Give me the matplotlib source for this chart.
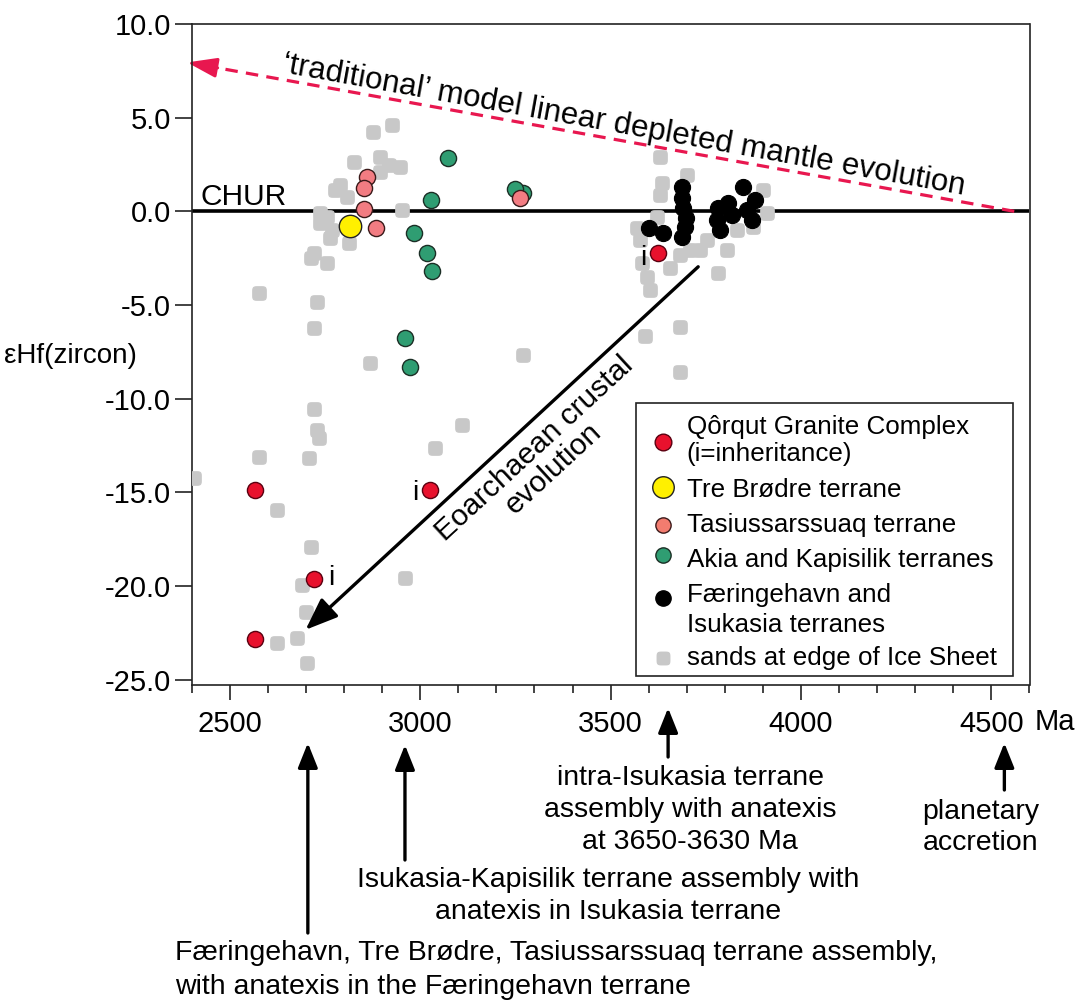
import matplotlib
matplotlib.use('Agg')
import numpy as np
import matplotlib.pyplot as plt
from matplotlib.ticker import MultipleLocator
from matplotlib.transforms import blended_transform_factory
from matplotlib.patches import Rectangle
from matplotlib.path import Path

plt.rcParams['font.family'] = ['Liberation Sans', 'DejaVu Sans']
plt.rcParams['axes.unicode_minus'] = False

# ---------------- data ----------------
sands_age = [2876, 2926, 2825, 2895, 2917, 2948, 2895, 2790, 2777, 2808,
             2738, 2756, 2738, 2769, 2764, 2812, 2720, 2712, 2756, 2952,
             2576, 2729, 2720, 2869, 3271, 2720, 2729, 2733, 2707, 2576,
             2405, 2624, 2712, 2690, 2699, 2677, 2624, 2703, 3110, 3040,
             2961, 3630, 3634, 3630, 3700, 3621, 3569, 3577, 3582, 3595,
             3604, 3783, 3805, 3735, 3752, 3709, 3901, 3910, 3831, 3682,
             3590, 3682, 3682, 3875, 3656]
sands_ehf = [4.25, 4.61, 2.65, 2.91, 2.47, 2.38, 2.11, 1.40, 1.14, 0.78,
             -0.11, -0.29, -0.64, -1.00, -1.44, -1.71, -2.24, -2.51, -2.77, 0.07,
             -4.38, -4.82, -6.24, -8.11, -7.67, -10.55, -11.67, -12.11, -13.18, -13.10,
             -14.25, -15.94, -17.90, -19.94, -21.37, -22.79, -23.05, -24.12, -11.40, -12.65,
             -19.58, 2.91, 1.49, 0.87, 1.94, -0.29, -0.91, -1.53, -2.77, -3.49,
             -4.20, -3.31, -2.07, -2.07, -1.53, -2.07, 1.14, -0.11, -1.00, -2.33,
             -6.68, -6.15, -8.56, -0.82, -3.02]

faer_age = [3687, 3687, 3691, 3698, 3695, 3687, 3602, 3638, 3783,
            3809, 3818, 3779, 3787, 3848, 3879, 3857, 3870]
faer_ehf = [1.31, 0.69, 0.16, -0.37, -0.85, -1.36, -0.91, -1.17, 0.16,
            0.43, -0.20, -0.46, -1.00, 1.31, 0.60, 0.07, -0.46]

akia_age = [3074, 3028, 2985, 3019, 3031, 2959, 2974, 3270, 3248]
akia_ehf = [2.83, 0.60, -1.17, -2.24, -3.19, -6.78, -8.29, 1.00, 1.17]

tasi_age = [2860, 2852, 2852, 2885, 3263]
tasi_ehf = [1.81, 1.23, 0.12, -0.91, 0.69]

tre_age = [2815]
tre_ehf = [-0.78]

qorqut_age = [2567, 3026, 2720, 2567, 3625]
qorqut_ehf = [-14.9, -14.87, -19.64, -22.84, -2.21]
qorqut_inherit = [False, True, True, False, True]

chur_age = [2400, 4600]
chur_ehf = [0, 0]

dm_age = [4560, 2388]          # 'traditional' depleted mantle line
dm_ehf = [0.0, 7.95]

crust_age = [3730, 2699]       # Eoarchaean crustal evolution arrow
crust_ehf = [-2.96, -22.34]

event_age = [2705, 2960, 3651, 4534]   # arrows below the axis

yticks = [10, 5, 0, -5, -10, -15, -20, -25]
xticks = [2500, 3000, 3500, 4000, 4500]
xtick_labels = ['2500', '3000', '3500', '4000', '4500']

# rounded-square marker for the sand grains
_t = np.linspace(0, 2 * np.pi, 64, endpoint=False)
_n = 5.0
_rx = np.sign(np.cos(_t)) * np.abs(np.cos(_t)) ** (2 / _n)
_ry = np.sign(np.sin(_t)) * np.abs(np.sin(_t)) ** (2 / _n)
_verts = np.column_stack([_rx, _ry])
_verts = np.vstack([_verts, _verts[:1]])
rsquare = Path(_verts, closed=True)

# ---------------- figure ----------------
W, H = 1078, 1005
fig = plt.figure(figsize=(W / 100, H / 100), dpi=100)
ax = fig.add_axes([191.7 / W, 1 - 684.5 / H, (1029.5 - 191.7) / W, (684.5 - 24) / H])
ax.set_xlim(2400, 4600)
ax.set_ylim(-25.26, 10)

for sp in ax.spines.values():
    sp.set_linewidth(1.2)
    sp.set_color('#222222')

ax.set_yticks(yticks)
ax.set_yticklabels(['%.1f' % v for v in yticks])
ax.set_xticks(xticks)
ax.set_xticklabels(xtick_labels)
ax.xaxis.set_minor_locator(MultipleLocator(100))
ax.tick_params(axis='y', direction='out', length=12, width=1.2, labelsize=21, pad=3, color='#222222')
ax.tick_params(axis='x', which='major', direction='out', length=11, width=1.2, labelsize=21, pad=7, color='#222222')
ax.tick_params(axis='x', which='minor', direction='out', length=5.5, width=1.2, color='#222222')

# CHUR
ax.plot(chur_age, chur_ehf, color='black', lw=2.6, zorder=2, solid_capstyle='butt')
ax.text(2423, 0.35, 'CHUR', fontsize=21.5, va='baseline', ha='left')

# traditional depleted mantle dashed line with arrow
red_dm = '#e8174f'
slope = (dm_ehf[1] - dm_ehf[0]) / (dm_age[1] - dm_age[0])
head_start = dm_age[1] + 80
ax.plot([dm_age[0], head_start + 8], [dm_ehf[0], dm_ehf[0] + slope * (head_start + 8 - dm_age[0])],
        color=red_dm, lw=2.3, linestyle=(0, (3.9, 2.6)), zorder=2, clip_on=False)
ax.annotate('', xy=(dm_age[1], dm_ehf[1]),
            xytext=(head_start, dm_ehf[0] + slope * (head_start - dm_age[0])),
            arrowprops=dict(arrowstyle='-|>,head_length=0.9,head_width=0.3', color=red_dm,
                            lw=2.2, shrinkA=0, shrinkB=0, mutation_scale=20),
            annotation_clip=False, zorder=2)
ax.text(3535, 4.6, '\u2018traditional\u2019 model linear depleted mantle evolution',
        fontsize=22.5, rotation=-10.2, rotation_mode='anchor', ha='center', va='center')

# Eoarchaean crustal evolution arrow
ax.annotate('', xy=(crust_age[1], crust_ehf[1]), xytext=(crust_age[0], crust_ehf[0]),
            arrowprops=dict(arrowstyle='-|>,head_length=0.9,head_width=0.35', color='black',
                            lw=2.4, shrinkA=0, shrinkB=0, mutation_scale=22), zorder=7)
ax.text(3324, -13.2, 'Eoarchaean crustal\nevolution', fontsize=21.5, rotation=42.7,
        rotation_mode='anchor', ha='center', va='center', multialignment='center', linespacing=1.0)

# data points
ax.scatter(sands_age, sands_ehf, s=95, marker=rsquare, c='#c8c8c8', edgecolors='#c8c8c8',
           linewidths=0.8, zorder=3)
ax.scatter(faer_age, faer_ehf, s=135, c='black', edgecolors='black', linewidths=0.8, zorder=4)
ax.scatter(akia_age, akia_ehf, s=135, c='#2f9d72', edgecolors='#1b2e25', linewidths=1.0, zorder=5)
ax.scatter(tasi_age, tasi_ehf, s=135, c='#f27c82', edgecolors='#3a1a1a', linewidths=1.0, zorder=5)
ax.scatter(tre_age, tre_ehf, s=260, c='#fff000', edgecolors='#222222', linewidths=1.0, zorder=6)
ax.scatter(qorqut_age, qorqut_ehf, s=135, c='#e8112d', edgecolors='#5a0010', linewidths=1.0, zorder=6)

i_offsets = {1: (-11, -2), 2: (13, 1), 4: (-11, -4)}
for k, (a, e, inh) in enumerate(zip(qorqut_age, qorqut_ehf, qorqut_inherit)):
    if inh:
        ax.annotate('i', (a, e), xytext=i_offsets[k], textcoords='offset points',
                    ha='center', va='center', fontsize=20, zorder=7)

# legend (manual)
ax.add_patch(Rectangle((0.530, 0.0129), 0.450, 0.4138, transform=ax.transAxes,
                       facecolor='white', edgecolor='#222222', lw=1.2, zorder=8))
mx = 0.5622
tx = 0.5909
lfs = 18.7
legend_markers = [
    (0.3676, 'o', 12.0, '#e8112d', '#5a0010'),
    (0.2995, 'o', 15.5, '#fff000', '#222222'),
    (0.2415, 'o', 11.0, '#f27c6f', '#3a1a1a'),
    (0.1960, 'o', 11.0, '#2f9d72', '#1b2e25'),
    (0.1310, 'o', 11.0, 'black', 'black'),
    (0.0397, rsquare, 9.0, '#c8c8c8', '#c8c8c8'),
]
for yy, mk, ms, fc, ec in legend_markers:
    ax.plot([mx], [yy], marker=mk, ms=ms, mfc=fc, mec=ec, mew=1.0, transform=ax.transAxes,
            zorder=9, clip_on=False, linestyle='none')
legend_lines = [
    (0.3892, 'Q\u00f4rqut Granite Complex'),
    (0.3490, '(i=inheritance)'),
    (0.2945, 'Tre Br\u00f8dre terrane'),
    (0.2415, 'Tasiussarssuaq terrane'),
    (0.1885, 'Akia and Kapisilik terranes'),
    (0.1355, 'F\u00e6ringehavn and'),
    (0.0901, 'Isukasia terranes'),
    (0.0397, 'sands at edge of Ice Sheet'),
]
for yy, s in legend_lines:
    ax.text(tx, yy, s, transform=ax.transAxes, fontsize=lfs, ha='left', va='center', zorder=9)

# axis label and unit
fig.text(137 / W, 1 - 356 / H, '\u03b5Hf(zircon)', fontsize=20, ha='right', va='center')
fig.text(1035 / W, 1 - 722 / H, 'Ma', fontsize=21, ha='left', va='center')

# arrows below the axis
trans = blended_transform_factory(ax.transData, fig.transFigure)
arrow_px = [(933, 743), (860, 745), (757, 708), (790, 743)]
for a, (y0, y1) in zip(event_age, arrow_px):
    ax.annotate('', xy=(a, 1 - y1 / H), xytext=(a, 1 - y0 / H), xycoords=trans, textcoords=trans,
                arrowprops=dict(arrowstyle='-|>,head_length=0.75,head_width=0.3', color='black',
                                lw=2.4, shrinkA=0, shrinkB=0, mutation_scale=20),
                annotation_clip=False)

bfs = 20.5
bottom_texts = [
    (690, 778, 'center', 'intra-Isukasia terrane'),
    (690, 810, 'center', 'assembly with anatexis'),
    (690, 842, 'center', 'at 3650-3630 Ma'),
    (981, 811.7, 'center', 'planetary'),
    (981, 843.3, 'center', 'accretion'),
    (608, 880, 'center', 'Isukasia-Kapisilik terrane assembly with'),
    (608, 911.7, 'center', 'anatexis in Isukasia terrane'),
    (174.6, 953, 'left', 'F\u00e6ringehavn, Tre Br\u00f8dre, Tasiussarssuaq terrane assembly,'),
    (174.6, 986.7, 'left', 'with anatexis in the F\u00e6ringehavn terrane'),
]
for x, y, ha, s in bottom_texts:
    fig.text(x / W, 1 - y / H, s, fontsize=bfs, ha=ha, va='center')

fig.savefig('out.png', dpi=100)
